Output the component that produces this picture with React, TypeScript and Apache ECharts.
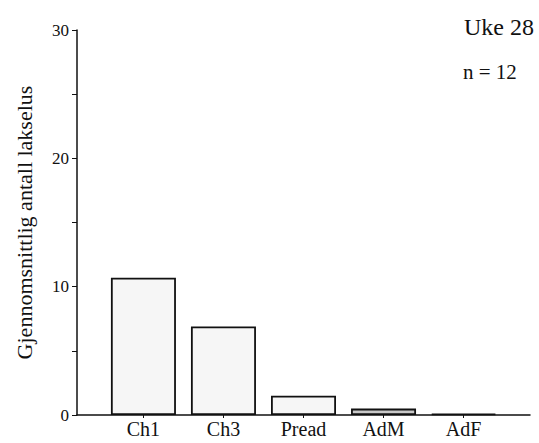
import React, { useEffect, useRef } from "react";
import * as echarts from "echarts";

const categories = ["Ch1", "Ch3", "Pread", "AdM", "AdF"];
const values = [10.7, 6.9, 1.5, 0.5, 0.1];
const barColors = ["#f6f6f6", "#f6f6f6", "#f6f6f6", "#c8c8c8", "#555555"];
const yTicks = [0, 10, 20, 30];
const title = "Uke 28";
const subtitle = "n = 12";
const yName = "Gjennomsnittlig antall lakselus";

export default function App() {
  const ref = useRef<HTMLDivElement>(null);
  useEffect(() => {
    if (!ref.current) return;
    document.body.style.margin = "0";
    document.body.style.overflow = "hidden";
    const chart = echarts.init(ref.current, null, { renderer: "svg" });
    const font = "'Liberation Serif', 'Times New Roman', serif";
    const positions = categories.map((_, i) => i + 1);
    chart.setOption({
      animation: false,
      backgroundColor: "#ffffff",
      textStyle: { fontFamily: font },
      grid: { left: 77, right: 9, top: 30, bottom: 28, containLabel: false },
      graphic: [
        {
          type: "text",
          left: 464,
          top: 15,
          style: { text: title, font: `24px ${font}`, fill: "#111" },
        },
        {
          type: "text",
          left: 463,
          top: 61,
          style: { text: subtitle, font: `21px ${font}`, fill: "#111" },
        },
      ],
      xAxis: {
        type: "value",
        min: 0.17,
        max: 5.83,
        splitLine: { show: false },
        axisLine: { show: true, lineStyle: { color: "#111", width: 1.5 } },
        axisTick: {
          show: true,
          customValues: positions,
          length: 3,
          lineStyle: { color: "#111" },
        },
        axisLabel: {
          customValues: positions,
          formatter: (v: number) => categories[Math.round(v) - 1] ?? "",
          color: "#111",
          fontSize: 20,
          fontFamily: font,
          margin: 4,
        },
      },
      yAxis: {
        type: "value",
        min: 0,
        max: 30,
        interval: 5,
        name: yName,
        nameLocation: "middle",
        nameGap: 42,
        nameTextStyle: { fontSize: 22, color: "#111", fontFamily: font },
        splitLine: { show: false },
        axisLine: { show: true, lineStyle: { color: "#111", width: 1.5 } },
        axisTick: { show: true, length: 5, lineStyle: { color: "#111" } },
        axisLabel: {
          formatter: (v: number) => (yTicks.includes(v) ? String(v) : ""),
          color: "#111",
          fontSize: 17,
          fontFamily: font,
          margin: 8,
        },
      },
      series: [
        {
          type: "bar",
          barWidth: 65,
          data: values.map((v, i) => ({
            value: [positions[i], v],
            itemStyle: {
              color: barColors[i],
              borderColor: "#111",
              borderWidth: 1.8,
            },
          })),
        },
      ],
    });
    return () => chart.dispose();
  }, []);
  return (
    <div
      ref={ref}
      style={{ position: "fixed", left: 0, top: 0, width: 539, height: 443 }}
    />
  );
}
